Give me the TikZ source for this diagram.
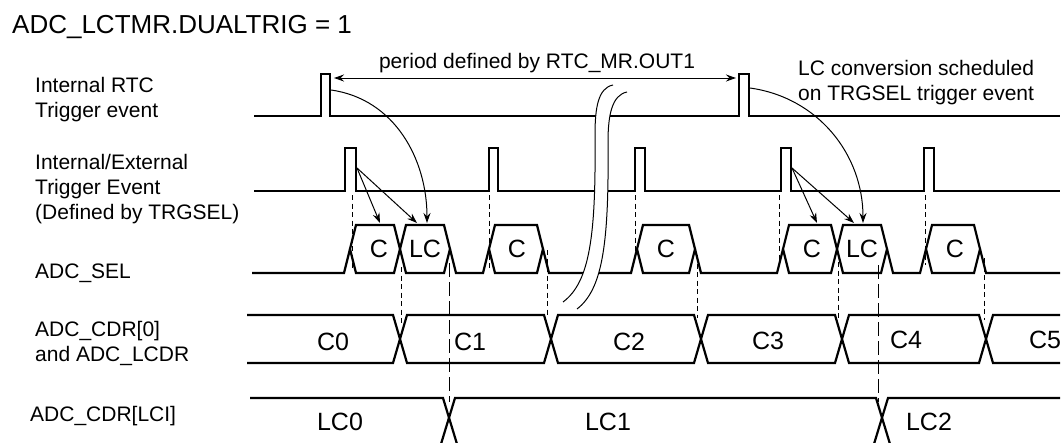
\documentclass[tikz,border=0pt]{standalone}
\usepackage{fontspec}
\setmainfont{Liberation Sans}
\usetikzlibrary{arrows.meta}

\begin{document}
\begin{tikzpicture}[x=1pt,y=-1pt,>={Stealth[length=10pt,width=7pt]},
  sig/.style={line width=2.2pt},
  dsh/.style={line width=1pt,dash pattern=on 5pt off 3.5pt},
  ldsh/.style={line width=1pt,dash pattern=on 14pt off 5pt},
  arr/.style={line width=1pt,->},
  lbl/.style={font=\fontsize{21}{25}\selectfont,align=left,inner sep=0pt},
  val/.style={font=\fontsize{25}{30}\selectfont,inner sep=0pt}]
  \useasboundingbox (0,0) rectangle (1063,442);

  \node[lbl,anchor=base west,font=\fontsize{26}{30}\selectfont] (title) at (12,33) {ADC\_LCTMR.DUALTRIG = 1};
  \node[lbl,anchor=west] (lrtc) at (35,100) {Internal RTC\\Trigger event};
  \node[lbl,anchor=west] (lext) at (35,189.5) {Internal/External\\Trigger Event\\(Defined by TRGSEL)};
  \node[lbl,anchor=base west] (lsel) at (35,278) {ADC\_SEL};
  \node[lbl,anchor=west] (lcdr) at (35,343.7) {ADC\_CDR[0]\\and ADC\_LCDR};
  \node[lbl,anchor=base west] (llci) at (30,421.7) {ADC\_CDR[LCI]};

  \draw[sig] (254,116) -- (321,116) -- (321,74) -- (330,74) -- (330,116) -- (739,116)
    -- (739,74) -- (749,74) -- (749,116) -- (1060,116);
  \draw[sig] (254,191) -- (345,191) -- (345,148) -- (356,148) -- (356,191) -- (489,191)
    -- (489,148) -- (498,148) -- (498,191) -- (635,191) -- (635,148) -- (645,148) -- (645,191)
    -- (781,191) -- (781,148) -- (791,148) -- (791,191) -- (924,191) -- (924,148) -- (934,148)
    -- (934,191) -- (1060,191);

  \draw[sig] (252,273) -- (344,273) -- (350,249);
  \draw[sig] (450,249) -- (456,273) -- (483,273) -- (489,249);
  \draw[sig] (543,249) -- (549,273) -- (631,273) -- (637,249);
  \draw[sig] (695,249) -- (701,273) -- (777,273) -- (783,249);
  \draw[sig] (887,249) -- (893,273) -- (920,273) -- (926,249);
  \draw[sig] (980,249) -- (986,273) -- (1060,273);
  \draw[sig] (350,249) -- (356,225) -- (394,225) -- (400,249) -- (394,273) -- (356,273) -- cycle;
  \draw[sig] (400,249) -- (406,225) -- (444,225) -- (450,249) -- (444,273) -- (406,273) -- cycle;
  \draw[sig] (489,249) -- (495,225) -- (537,225) -- (543,249) -- (537,273) -- (495,273) -- cycle;
  \draw[sig] (637,249) -- (643,225) -- (689,225) -- (695,249) -- (689,273) -- (643,273) -- cycle;
  \draw[sig] (783,249) -- (789,225) -- (831,225) -- (837,249) -- (831,273) -- (789,273) -- cycle;
  \draw[sig] (837,249) -- (843,225) -- (881,225) -- (887,249) -- (881,273) -- (843,273) -- cycle;
  \draw[sig] (926,249) -- (932,225) -- (974,225) -- (980,249) -- (974,273) -- (932,273) -- cycle;
  \node[val] (s1) at (379,249) {C};
  \node[val] (s2) at (425,249) {LC};
  \node[val] (s3) at (517,249) {C};
  \node[val] (s4) at (666,249) {C};
  \node[val] (s5) at (812,249) {C};
  \node[val] (s6) at (862,249) {LC};
  \node[val] (s7) at (955,249) {C};

  \draw[sig] (247,315) -- (393,315) -- (407,363) -- (544,363) -- (558,315) -- (694,315) -- (708,363)
    -- (835,363) -- (849,315) -- (979,315) -- (993,363) -- (1060,363);
  \draw[sig] (247,363) -- (393,363) -- (407,315) -- (544,315) -- (558,363) -- (694,363) -- (708,315)
    -- (835,315) -- (849,363) -- (979,363) -- (993,315) -- (1060,315);
  \node[val] (d0) at (333,342) {C0};
  \node[val] (d1) at (470,342) {C1};
  \node[val] (d2) at (629,342) {C2};
  \node[val] (d3) at (768,341) {C3};
  \node[val] (d4) at (906,340) {C4};
  \node[val] (d5) at (1045,340) {C5};

  \begin{scope}
    \clip (0,0) rectangle (1063,442);
    \draw[sig] (250,398) -- (443,398) -- (457,444);
    \draw[sig] (441,444) -- (455,398) -- (876,398) -- (890,444);
    \draw[sig] (874,444) -- (888,398) -- (1060,398);
  \end{scope}
  \node[val] (lc0) at (340,422) {LC0};
  \node[val] (lc1) at (608,422) {LC1};
  \node[val] (lc2) at (929,422) {LC2};

  \draw[dsh] (352,195) -- (352,268);
  \draw[dsh] (489,195) -- (489,268);
  \draw[dsh] (635,195) -- (635,253);
  \draw[dsh] (779,195) -- (779,262);
  \draw[dsh] (925,195) -- (925,265);
  \draw[dsh] (401,267) -- (401,323);
  \draw[dsh] (547,250) -- (547,316);
  \draw[dsh] (697,255) -- (697,318);
  \draw[dsh] (838,262) -- (838,320);
  \draw[dsh] (984,258) -- (984,320);
  \draw[ldsh] (449,263) -- (449,402);
  \draw[ldsh] (878,265) -- (878,402);

  \coordinate (pa) at (334,78);
  \coordinate (pb) at (736,78);
  \draw[line width=1pt,<->] (pa) -- (pb);
  \node[lbl,anchor=base] (period) at (537,68.5) {period defined by RTC\_MR.OUT1};
  \node[lbl,anchor=west] (lcnote) at (798,82.5) {LC conversion scheduled\\on TRGSEL trigger event};

  \coordinate (e1) at (357,168);
  \coordinate (e4) at (792,168);
  \coordinate (r1) at (331,90);
  \coordinate (r2) at (750,88);
  \coordinate (t1) at (380,223);
  \coordinate (t2) at (417,223);
  \coordinate (t3) at (427,223);
  \coordinate (t5) at (817,223);
  \coordinate (t6) at (854,223);
  \coordinate (t7) at (863,223);
  \draw[arr] (e1) -- (t1);
  \draw[arr] (e1) -- (t2);
  \draw[arr] (r1) to[out=-8,in=90] (t3);
  \draw[arr] (e4) -- (t5);
  \draw[arr] (e4) -- (t6);
  \draw[arr] (r2) to[out=-8,in=90] (t7);

  \fill[white] (613,85) .. controls (598,88) and (595,108) .. (595,135)
    .. controls (596,235) and (590,282) .. (563,302) -- (577,309)
    .. controls (603,289) and (609,242) .. (608,142)
    .. controls (608,115) and (612,95) .. (627,92) -- cycle;
  \draw[line width=1pt] (613,85) .. controls (598,88) and (595,108) .. (595,135)
    .. controls (596,235) and (590,282) .. (563,302);
  \draw[line width=1pt] (627,92) .. controls (612,95) and (608,115) .. (608,142)
    .. controls (609,242) and (603,289) .. (577,309);
\end{tikzpicture}
\end{document}
